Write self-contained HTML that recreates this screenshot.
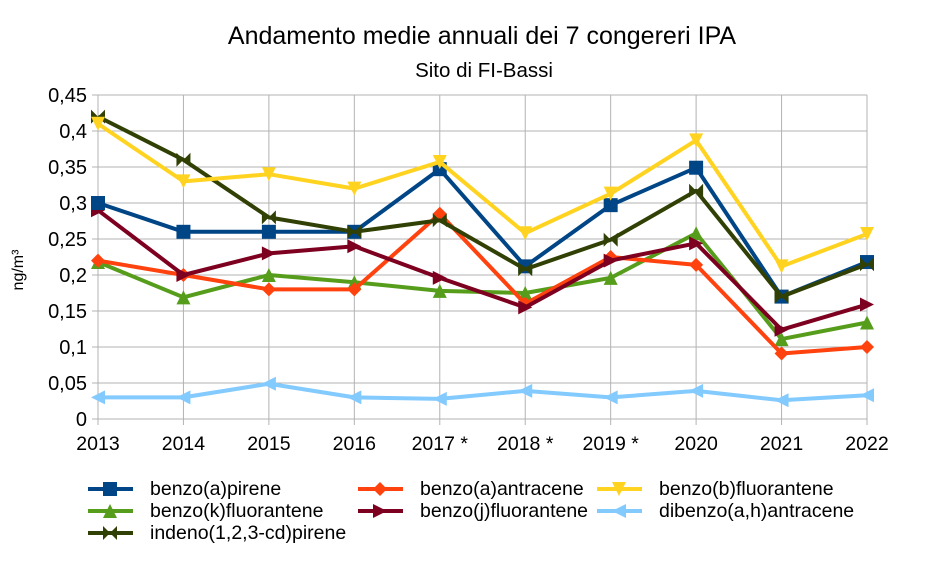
<!DOCTYPE html>
<html><head><meta charset="utf-8"><style>
body{margin:0;background:#fff;font-family:"Liberation Sans",sans-serif}
svg text{font-family:"Liberation Sans",sans-serif}
</style></head><body>
<svg id="c" width="925" height="563" xmlns="http://www.w3.org/2000/svg">
<text x="482" y="44" font-size="25" text-anchor="middle">Andamento medie annuali dei 7 congereri IPA</text>
<text x="484" y="77" font-size="20.5" text-anchor="middle">Sito di FI-Bassi</text>
<text transform="translate(23,270) rotate(-90)" font-size="16" text-anchor="middle">ng/m³</text>
<g id="grid"></g><g id="series"></g><g id="legend"></g>
</svg>
<script>
const categories=["2013","2014","2015","2016","2017 *","2018 *","2019 *","2020","2021","2022"];
const yTicks=[0,0.05,0.1,0.15,0.2,0.25,0.3,0.35,0.4,0.45];
const yTickLabels=["0","0,05","0,1","0,15","0,2","0,25","0,3","0,35","0,4","0,45"];
const seriesNames=["benzo(a)pirene","benzo(a)antracene","benzo(b)fluorantene","benzo(k)fluorantene","benzo(j)fluorantene","dibenzo(a,h)antracene","indeno(1,2,3-cd)pirene"];
const bapValues=[0.30,0.26,0.26,0.26,0.347,0.212,0.297,0.349,0.17,0.218];
const baaValues=[0.22,0.20,0.18,0.18,0.285,0.16,0.225,0.214,0.091,0.10];
const bbfValues=[0.41,0.33,0.34,0.32,0.357,0.258,0.313,0.387,0.212,0.257];
const bkfValues=[0.218,0.169,0.20,0.19,0.178,0.175,0.196,0.258,0.111,0.134];
const bjfValues=[0.29,0.20,0.23,0.24,0.196,0.155,0.22,0.244,0.124,0.159];
const dbaValues=[0.03,0.03,0.049,0.03,0.028,0.039,0.03,0.039,0.026,0.033];
const indValues=[0.42,0.36,0.28,0.26,0.276,0.208,0.249,0.317,0.17,0.215];
const allValues=[bapValues,baaValues,bbfValues,bkfValues,bjfValues,dbaValues,indValues];
const colors=["#004586","#ff420e","#ffd320","#579d1c","#7e0021","#83caff","#314004"];
const markers=["square","diamond","down","up","right","left","bowtie"];
const drawOrder=[5,3,1,4,0,6,2];
const NS="http://www.w3.org/2000/svg";
const X0=98,X1=867,Y0=419,Y1=95,YMAX=0.45;
const xS=i=>X0+i*(X1-X0)/(categories.length-1);
const yS=v=>Y0-v/YMAX*(Y0-Y1);
function mk(t,a,p){const e=document.createElementNS(NS,t);for(const k in a)e.setAttribute(k,a[k]);p.appendChild(e);return e;}
const grid=document.getElementById('grid');
yTicks.forEach((t,i)=>{const y=yS(t);
 const l=mk('line',{x1:X0-6,x2:X1,y1:y,y2:y,stroke:'#b3b3b3','stroke-width':1},grid);
 
 
 const tx=mk('text',{x:87,y:y+7,'font-size':20,'text-anchor':'end'},grid);tx.textContent=yTickLabels[i];
 
 });
categories.forEach((c,i)=>{const x=xS(i);
 const l=mk('line',{x1:x,x2:x,y1:Y1,y2:Y0+6,stroke:'#b3b3b3','stroke-width':1},grid);
 
 
 const tx=mk('text',{x:x,y:Y0+31,'font-size':19.5,'text-anchor':'middle'},grid);tx.textContent=c;
 
 });
function marker(type,x,y,col,p){const s=7;let d;
 if(type==='square')d=`M${x-s} ${y-s}h${2*s}v${2*s}h${-2*s}z`;
 else if(type==='diamond')d=`M${x} ${y-s}L${x+s} ${y}L${x} ${y+s}L${x-s} ${y}z`;
 else if(type==='down')d=`M${x-s} ${y-s}L${x+s} ${y-s}L${x} ${y+s}z`;
 else if(type==='up')d=`M${x-s} ${y+s}L${x+s} ${y+s}L${x} ${y-s}z`;
 else if(type==='right')d=`M${x-s} ${y-s}L${x+s} ${y}L${x-s} ${y+s}z`;
 else if(type==='left')d=`M${x+s} ${y-s}L${x-s} ${y}L${x+s} ${y+s}z`;
 else d=`M${x-s} ${y-s}L${x+s} ${y+s}L${x+s} ${y-s}L${x-s} ${y+s}z`;
 return mk('path',{d:d,fill:col},p);}
const sg=document.getElementById('series');
drawOrder.forEach(k=>{const vals=allValues[k];const g=mk('g',{},sg);
 
 
 const pl=mk('polyline',{points:vals.map((v,i)=>xS(i)+','+yS(v)).join(' '),fill:'none',stroke:colors[k],'stroke-width':4,'stroke-linejoin':'round'},g);
 
 
 vals.forEach((v,i)=>{const m=marker(markers[k],xS(i),yS(v),colors[k],g);
  
  });});
const lg=document.getElementById('legend');
const lx=[88,358,597],ly=[489,511,533];
seriesNames.forEach((n,k)=>{const x=lx[k%3],y=ly[Math.floor(k/3)];const g=mk('g',{},lg);
 
 
 mk('line',{x1:x,x2:x+45,y1:y,y2:y,stroke:colors[k],'stroke-width':4},g);
 marker(markers[k],x+22,y,colors[k],g);
 const t=mk('text',{x:x+62,y:y+6,'font-size':19.5},g);t.textContent=n;});
</script>
</body></html>
